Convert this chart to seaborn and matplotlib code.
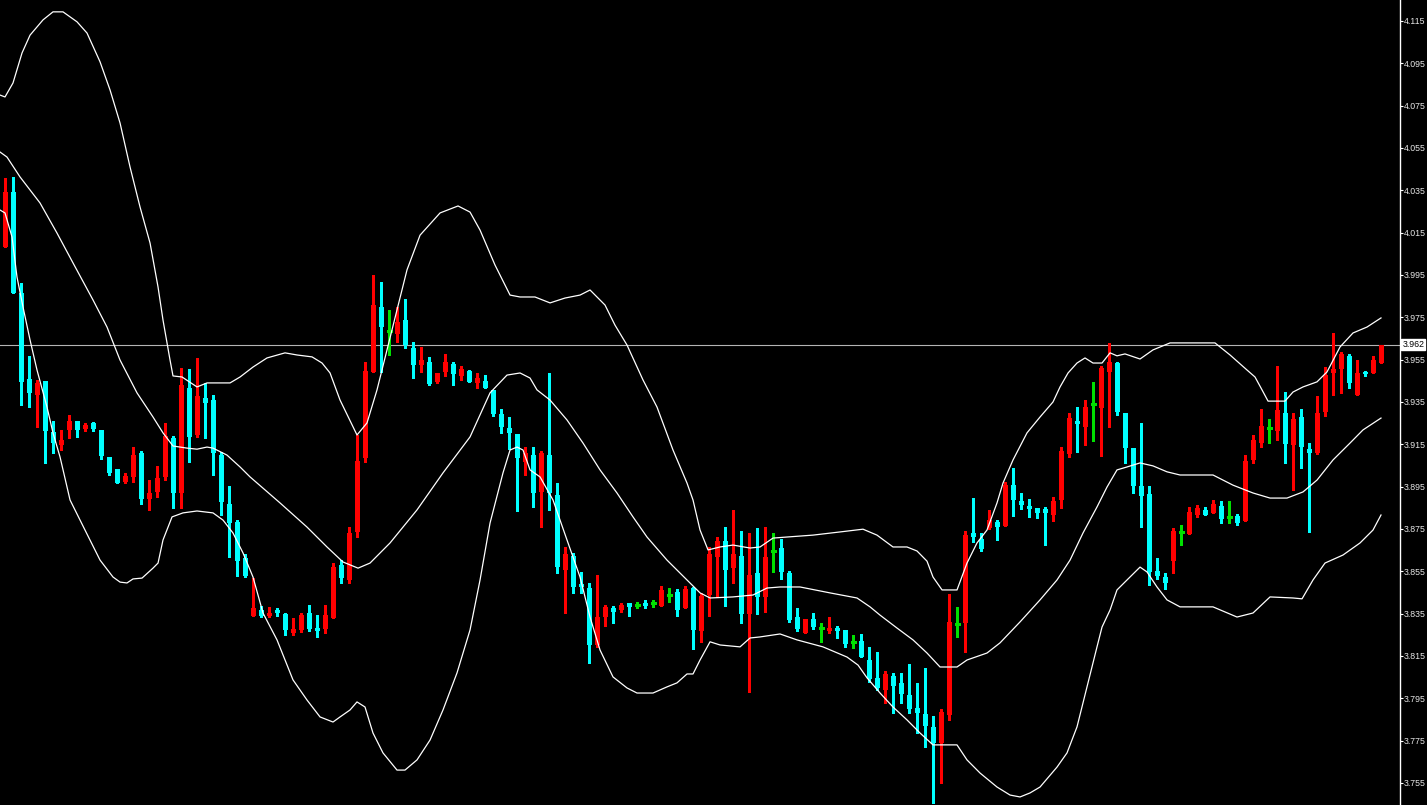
import matplotlib
matplotlib.use("Agg")
import matplotlib.pyplot as plt
import numpy as np
import pandas as pd
import seaborn as sns

# ---------------- candle data (one entry per bar) ----------------
opens = [
    4.0082, 4.0342, 3.9865, 3.9458, 3.9383, 3.9449, 3.9209, 3.9146, 3.9218, 3.9260,
    3.9222, 3.9251, 3.9218, 3.9090, 3.9033, 3.8972, 3.8996, 3.9109, 3.8891, 3.8925,
    3.8996, 3.9180, 3.8920, 3.9416, 3.9194, 3.9369, 3.9359, 3.9099, 3.8868, 3.8782,
    3.8613, 3.8339, 3.8367, 3.8339, 3.8367, 3.8348, 3.8259, 3.8273, 3.8353, 3.8282,
    3.8277, 3.8329, 3.8579, 3.8509, 3.8736, 3.9085, 3.9492, 3.9799, 3.9685, 3.9671,
    3.9737, 3.9605, 3.9524, 3.9539, 3.9445, 3.9492, 3.9529, 3.9473, 3.9496, 3.9440,
    3.9449, 3.9407, 3.9293, 3.9227, 3.9199, 3.9067, 3.9099, 3.8925, 3.9099, 3.8910,
    3.8556, 3.8623, 3.8490, 3.8471, 3.8202, 3.8334, 3.8377, 3.8367, 3.8401, 3.8391,
    3.8401, 3.8401, 3.8387, 3.8438, 3.8453, 3.8377, 3.8471, 3.8268, 3.8438, 3.8618,
    3.8693, 3.8565, 3.8623, 3.8348, 3.8542, 3.8429, 3.8646, 3.8660, 3.8542, 3.8334,
    3.8259, 3.8325, 3.8282, 3.8268, 3.8282, 3.8273, 3.8217, 3.8221, 3.8131, 3.8047,
    3.7989, 3.8056, 3.8023, 3.7966, 3.7904, 3.7876, 3.7814, 3.7739, 3.7871, 3.8301,
    3.8306, 3.8731, 3.8703, 3.8754, 3.8782, 3.8764, 3.8957, 3.8882, 3.8859, 3.8849,
    3.8844, 3.8816, 3.8887, 3.9104, 3.9260, 3.9232, 3.9340, 3.9321, 3.9492, 3.9534,
    3.9298, 3.9132, 3.8953, 3.8915, 3.8551, 3.8523, 3.8598, 3.8736, 3.8726, 3.8816,
    3.8840, 3.8826, 3.8859, 3.8807, 3.8811, 3.8787, 3.9076, 3.9156, 3.9227, 3.9213,
    3.9298, 3.9146, 3.9279, 3.9127, 3.9109, 3.9303, 3.9487, 3.9505, 3.9568, 3.9383,
    3.9492, 3.9487, 3.9534,
]
highs = [
    4.0408, 4.0413, 3.9912, 3.9568, 3.9454, 3.9449, 3.9260, 3.9218, 3.9288, 3.9260,
    3.9251, 3.9256, 3.9218, 3.9090, 3.9033, 3.9015, 3.9137, 3.9118, 3.8981, 3.9048,
    3.9251, 3.9190, 3.9510, 3.9505, 3.9558, 3.9440, 3.9383, 3.9114, 3.8953, 3.8792,
    3.8632, 3.8518, 3.8387, 3.8382, 3.8377, 3.8353, 3.8329, 3.8353, 3.8391, 3.8343,
    3.8391, 3.8589, 3.8603, 3.8759, 3.9194, 3.9539, 3.9950, 3.9917, 3.9785, 3.9799,
    3.9836, 3.9634, 3.9610, 3.9563, 3.9487, 3.9577, 3.9539, 3.9520, 3.9501, 3.9487,
    3.9477, 3.9407, 3.9316, 3.9279, 3.9199, 3.9137, 3.9137, 3.9118, 3.9487, 3.8967,
    3.8665, 3.8637, 3.8547, 3.8495, 3.8532, 3.8391, 3.8387, 3.8401, 3.8401, 3.8405,
    3.8415, 3.8415, 3.8481, 3.8471, 3.8467, 3.8481, 3.8476, 3.8448, 3.8665, 3.8712,
    3.8759, 3.8840, 3.8740, 3.8731, 3.8754, 3.8759, 3.8731, 3.8703, 3.8551, 3.8377,
    3.8325, 3.8353, 3.8306, 3.8334, 3.8292, 3.8273, 3.8249, 3.8254, 3.8193, 3.8169,
    3.8079, 3.8070, 3.8070, 3.8112, 3.8023, 3.8094, 3.7867, 3.7900, 3.8443, 3.8382,
    3.8740, 3.8896, 3.8731, 3.8840, 3.8792, 3.8972, 3.9038, 3.8920, 3.8891, 3.8849,
    3.8854, 3.8901, 3.9137, 3.9298, 3.9326, 3.9359, 3.9445, 3.9520, 3.9629, 3.9539,
    3.9298, 3.9132, 3.9251, 3.8953, 3.8613, 3.8542, 3.8754, 3.8768, 3.8854, 3.8863,
    3.8854, 3.8887, 3.8882, 3.8882, 3.8821, 3.9099, 3.9194, 3.9316, 3.9269, 3.9520,
    3.9398, 3.9298, 3.9316, 3.9156, 3.9378, 3.9515, 3.9676, 3.9586, 3.9577, 3.9548,
    3.9496, 3.9568, 3.9619,
]
lows = [
    4.0082, 3.9865, 3.9335, 3.9326, 3.9232, 3.9062, 3.9109, 3.9123, 3.9180, 3.9185,
    3.9213, 3.9213, 3.9080, 3.9005, 3.8967, 3.8967, 3.8972, 3.8868, 3.8840, 3.8901,
    3.8981, 3.8849, 3.8849, 3.9067, 3.9185, 3.9180, 3.9005, 3.8816, 3.8618, 3.8528,
    3.8523, 3.8339, 3.8334, 3.8334, 3.8339, 3.8249, 3.8249, 3.8264, 3.8268, 3.8240,
    3.8259, 3.8329, 3.8495, 3.8495, 3.8712, 3.9067, 3.9492, 3.9492, 3.9572, 3.9634,
    3.9605, 3.9463, 3.9492, 3.9430, 3.9440, 3.9473, 3.9430, 3.9454, 3.9445, 3.9416,
    3.9416, 3.9284, 3.9204, 3.9127, 3.8835, 3.9005, 3.8854, 3.8759, 3.8840, 3.8542,
    3.8353, 3.8448, 3.8448, 3.8117, 3.8193, 3.8292, 3.8306, 3.8358, 3.8339, 3.8377,
    3.8377, 3.8382, 3.8387, 3.8405, 3.8339, 3.8377, 3.8183, 3.8217, 3.8339, 3.8429,
    3.8387, 3.8495, 3.8306, 3.7980, 3.8348, 3.8358, 3.8547, 3.8514, 3.8311, 3.8268,
    3.8259, 3.8277, 3.8217, 3.8259, 3.8235, 3.8193, 3.8188, 3.8145, 3.8028, 3.7989,
    3.7928, 3.7881, 3.7928, 3.7881, 3.7786, 3.7720, 3.7456, 3.7550, 3.7848, 3.8240,
    3.8169, 3.8689, 3.8646, 3.8749, 3.8698, 3.8764, 3.8811, 3.8844, 3.8807, 3.8802,
    3.8674, 3.8787, 3.8849, 3.9090, 3.9114, 3.9146, 3.9165, 3.9095, 3.9232, 3.9288,
    3.9062, 3.8920, 3.8759, 3.8485, 3.8514, 3.8467, 3.8542, 3.8674, 3.8726, 3.8807,
    3.8816, 3.8826, 3.8778, 3.8778, 3.8768, 3.8787, 3.9062, 3.9137, 3.9156, 3.9170,
    3.9062, 3.8934, 3.9038, 3.8736, 3.9104, 3.9284, 3.9383, 3.9393, 3.9416, 3.9383,
    3.9473, 3.9487, 3.9534,
]
closes = [
    4.0342, 3.9865, 3.9445, 3.9393, 3.9440, 3.9213, 3.9156, 3.9170, 3.9260, 3.9218,
    3.9241, 3.9222, 3.9095, 3.9015, 3.8967, 3.9001, 3.9099, 3.8891, 3.8920, 3.8991,
    3.9190, 3.8920, 3.9430, 3.9185, 3.9379, 3.9345, 3.9109, 3.8878, 3.8778, 3.8598,
    3.8528, 3.8377, 3.8339, 3.8353, 3.8353, 3.8273, 3.8277, 3.8343, 3.8277, 3.8268,
    3.8343, 3.8570, 3.8518, 3.8731, 3.9071, 3.9496, 3.9808, 3.9704, 3.9685, 3.9728,
    3.9619, 3.9524, 3.9548, 3.9435, 3.9487, 3.9539, 3.9482, 3.9505, 3.9445, 3.9463,
    3.9416, 3.9293, 3.9232, 3.9204, 3.9085, 3.9109, 3.8920, 3.9109, 3.8920, 3.8570,
    3.8632, 3.8476, 3.8476, 3.8202, 3.8334, 3.8382, 3.8358, 3.8391, 3.8382, 3.8391,
    3.8387, 3.8401, 3.8462, 3.8438, 3.8367, 3.8467, 3.8273, 3.8434, 3.8632, 3.8693,
    3.8556, 3.8632, 3.8348, 3.8532, 3.8429, 3.8618, 3.8646, 3.8547, 3.8320, 3.8277,
    3.8325, 3.8287, 3.8282, 3.8282, 3.8268, 3.8207, 3.8217, 3.8145, 3.8042, 3.7999,
    3.8065, 3.8009, 3.7970, 3.7900, 3.7881, 3.7819, 3.7739, 3.7886, 3.8311, 3.8301,
    3.8721, 3.8712, 3.8655, 3.8792, 3.8759, 3.8957, 3.8887, 3.8863, 3.8844, 3.8826,
    3.8826, 3.8882, 3.9118, 3.9274, 3.9246, 3.9326, 3.9340, 3.9510, 3.9539, 3.9303,
    3.9132, 3.8953, 3.8906, 3.8547, 3.8528, 3.8495, 3.8740, 3.8736, 3.8830, 3.8849,
    3.8816, 3.8868, 3.8797, 3.8807, 3.8778, 3.9071, 3.9170, 3.9237, 3.9227, 3.9312,
    3.9151, 3.9269, 3.9137, 3.9109, 3.9298, 3.9477, 3.9505, 3.9577, 3.9440, 3.9487,
    3.9482, 3.9548, 3.9619,
]

# ---------------- Bollinger band vertices (bar index, price) ----------------
upper_x = [-0.63, 0, 1, 2.13, 3.13, 4.75, 6, 7.25, 9, 10.25, 11.88, 13.13, 14.38, 15.63, 16.88,
           18.13, 19.13, 19.75, 20.63, 21, 22.13, 24, 25.25, 28.13, 29.38, 31, 32.75, 35, 36.5,
           38.38, 39.63, 40.63, 41.88, 44, 45.25, 46.5, 47.75, 49, 50.25, 51.88, 54.38, 56.63,
           58.13, 59.38, 61.25, 63.13, 64.38, 66.25, 68.13, 70, 71.88, 73.13, 75, 76.25, 77.75,
           79.75, 81.5, 83.5, 85.25, 86, 86.88, 87.88, 89.38, 91, 93.13, 94.38, 96, 97.75, 101,
           104.38, 107.25, 109, 111, 112.75, 114, 115.25, 116, 117.13, 119, 120.25, 121.5, 122.75,
           124, 124.75, 126, 127.75, 129.38, 131, 131.88, 132.88, 134, 135, 136, 137.13, 138.13,
           139, 140, 141.88, 143.5, 145.63, 151.25, 153.13, 155.25, 156.25, 157.13, 157.88, 160,
           161, 162.25, 164, 165.25, 166.88, 168.5, 170.25, 172]
upper_v = [4.0800, 4.0791, 4.0857, 4.0999, 4.1083, 4.1155, 4.1193, 4.1193, 4.1146, 4.1093,
           4.0957, 4.0824, 4.0668, 4.0460, 4.0271, 4.0101, 3.9893, 3.9737, 3.9548, 3.9473,
           3.9468, 3.9421, 3.9440, 3.9440, 3.9468, 3.9515, 3.9558, 3.9582, 3.9572, 3.9563,
           3.9534, 3.9487, 3.9359, 3.9194, 3.9251, 3.9407, 3.9596, 3.9785, 3.9974, 4.0138,
           4.0243, 4.0276, 4.0247, 4.0162, 3.9997, 3.9855, 3.9846, 3.9846, 3.9818, 3.9841,
           3.9855, 3.9879, 3.9808, 3.9713, 3.9619, 3.9454, 3.9326, 3.9123, 3.8967, 3.8887,
           3.8745, 3.8651, 3.8665, 3.8674, 3.8660, 3.8665, 3.8707, 3.8712, 3.8721, 3.8736,
           3.8749, 3.8721, 3.8665, 3.8665, 3.8646, 3.8598, 3.8523, 3.8462, 3.8462, 3.8589,
           3.8684, 3.8745, 3.8873, 3.8967, 3.9076, 3.9204, 3.9279, 3.9350, 3.9421, 3.9487,
           3.9534, 3.9558, 3.9534, 3.9534, 3.9582, 3.9568, 3.9577, 3.9553, 3.9596, 3.9629,
           3.9629, 3.9572, 3.9501, 3.9468, 3.9407, 3.9354, 3.9354, 3.9397, 3.9421, 3.9445,
           3.9492, 3.9610, 3.9676, 3.9704, 3.9747]

middle_x = [-0.63, 0.25, 1.88, 4.38, 6.5, 8.5, 11, 12.75, 14.38, 16.5, 18.5, 19.75, 21, 22.75,
            24, 25.25, 26, 27.75, 29.38, 30.63, 34.38, 37.75, 40.25, 42.25, 44.13, 45.63, 48.13,
            51.5, 54.75, 58.13, 60.63, 62.75, 64.38, 65.63, 66.5, 68.13, 70.25, 72.25, 74.38,
            76.5, 78.5, 80.25, 82.75, 85.25, 86.88, 88.13, 91, 93.5, 95.25, 96.88, 99.38, 103.13,
            106.5, 108.13, 109.38, 111.5, 113.5, 115.25, 116.88, 119, 120.25, 122.75, 124.38,
            126.88, 129.38, 131.5, 133.13, 134.75, 136.5, 137.75, 139, 140.25, 141.88, 143.5,
            145.25, 146.88, 151, 153.5, 156, 158.13, 160.25, 162.25, 164, 166, 168.13, 169.75, 172]
middle_v = [4.0531, 4.0507, 4.0413, 4.0290, 4.0148, 4.0007, 3.9832, 3.9704, 3.9548, 3.9393,
            3.9279, 3.9204, 3.9142, 3.9132, 3.9127, 3.9137, 3.9132, 3.9099, 3.9043, 3.8996,
            3.8873, 3.8759, 3.8665, 3.8594, 3.8565, 3.8589, 3.8684, 3.8840, 3.9015, 3.9185,
            3.9393, 3.9477, 3.9487, 3.9463, 3.9407, 3.9359, 3.9265, 3.9156, 3.9029, 3.8920,
            3.8807, 3.8712, 3.8603, 3.8509, 3.8448, 3.8424, 3.8429, 3.8438, 3.8471, 3.8476,
            3.8476, 3.8448, 3.8424, 3.8382, 3.8343, 3.8282, 3.8226, 3.8164, 3.8098, 3.8098,
            3.8131, 3.8164, 3.8212, 3.8311, 3.8415, 3.8509, 3.8603, 3.8731, 3.8854, 3.8948,
            3.9029, 3.9043, 3.9062, 3.9048, 3.9020, 3.9005, 3.9005, 3.8957, 3.8920, 3.8896,
            3.8896, 3.8925, 3.8981, 3.9076, 3.9156, 3.9218, 3.9274]

lower_x = [-0.63, 0, 0.88, 1.5, 2.25, 3.13, 4, 5.25, 6, 6.88, 8.13, 10, 11.88, 13.5, 14.38,
           15.25, 16, 17.13, 18.5, 19.13, 19.75, 20.88, 22.25, 24, 26, 27.25, 28.5, 29.75, 31,
           32.25, 34, 36, 37.75, 39.38, 41, 41.88, 43.13, 44, 45, 46, 47.25, 49, 50, 51.5, 53.13,
           54.75, 56.5, 58.13, 59.38, 60.63, 62.25, 63.13, 64, 64.75, 65.63, 66.88, 68.5, 70.25,
           71.88, 73.13, 74.38, 76, 77.75, 79, 81, 82.75, 84, 85.25, 86, 86.88, 88.13, 89.38,
           91.88, 93.13, 94.38, 96.88, 99, 102.25, 105.25, 106.63, 107.75, 109.38, 111, 112.75,
           114.38, 116, 119, 120.25, 121.88, 124, 125.63, 126.88, 128.13, 129.38, 131.5, 132.75,
           134, 135.25, 136.5, 137.13, 138.13, 139, 140.25, 141.88, 142.75, 144, 145.25, 146.88,
           151, 154, 156, 158.13, 161, 162.13, 163.5, 165, 167.25, 169.38, 171, 172]
lower_v = [4.0257, 4.0243, 4.0129, 3.9940, 3.9799, 3.9643, 3.9501, 3.9326, 3.9204, 3.9090,
           3.8887, 3.8745, 3.8603, 3.8523, 3.8499, 3.8495, 3.8514, 3.8518, 3.8565, 3.8589,
           3.8698, 3.8807, 3.8826, 3.8835, 3.8826, 3.8792, 3.8731, 3.8637, 3.8523, 3.8353,
           3.8226, 3.8037, 3.7942, 3.7862, 3.7838, 3.7862, 3.7895, 3.7933, 3.7909, 3.7786,
           3.7692, 3.7611, 3.7611, 3.7659, 3.7753, 3.7895, 3.8070, 3.8273, 3.8509, 3.8778,
           3.9015, 3.9123, 3.9137, 3.9123, 3.9029, 3.8996, 3.8887, 3.8698, 3.8523, 3.8334,
           3.8178, 3.8051, 3.7999, 3.7975, 3.7975, 3.8004, 3.8023, 3.8065, 3.8065, 3.8131,
           3.8217, 3.8202, 3.8193, 3.8235, 3.8240, 3.8254, 3.8226, 3.8193, 3.8145, 3.8107,
           3.8047, 3.7975, 3.7909, 3.7848, 3.7786, 3.7730, 3.7730, 3.7659, 3.7597, 3.7531,
           3.7493, 3.7484, 3.7503, 3.7531, 3.7625, 3.7692, 3.7815, 3.8004, 3.8193, 3.8287,
           3.8367, 3.8462, 3.8509, 3.8570, 3.8547, 3.8476, 3.8415, 3.8382, 3.8382, 3.8334,
           3.8353, 3.8429, 3.8424, 3.8420, 3.8509, 3.8589, 3.8627, 3.8684, 3.8745, 3.8816]

price_labels = ["4.115", "4.095", "4.075", "4.055", "4.035", "4.015", "3.995", "3.975",
                "3.955", "3.935", "3.915", "3.895", "3.875", "3.855", "3.835", "3.815",
                "3.795", "3.775", "3.755"]
current_price = 3.962
current_label = "3.962"

# ---------------- figure ----------------
plt.rcParams["font.family"] = ["Liberation Sans", "DejaVu Sans"]

W, H = 1427, 805
fig = plt.figure(figsize=(W / 100, H / 100), dpi=100, facecolor="black")
ax = fig.add_axes([0, 0, 1400 / W, 1])
ax.set_facecolor("black")

o = np.array(opens); h = np.array(highs); l = np.array(lows); c = np.array(closes)
idx = np.arange(len(o))
up = c > o
dn = c < o
dj = c == o

RED, CYAN, GREEN = "#ff0000", "#00ffff", "#00e000"
bw = 0.625

for mask, col in ((up, RED), (dn, CYAN), (dj, GREEN)):
    ax.vlines(idx[mask], l[mask], h[mask], color=col, lw=1.0, zorder=2, antialiaseds=False)

ax.bar(idx[up], c[up] - o[up], bottom=o[up], width=bw, color=RED, lw=0, zorder=2.5,
       antialiased=False)
ax.bar(idx[dn], o[dn] - c[dn], bottom=c[dn], width=bw, color=CYAN, lw=0, zorder=2.5,
       antialiased=False)
ax.hlines(c[dj], idx[dj] - bw / 2, idx[dj] + bw / 2, color=GREEN, lw=1.0, zorder=2.5,
          antialiaseds=False)

bands = pd.concat([
    pd.DataFrame({"idx": upper_x, "price": upper_v, "band": "upper"}),
    pd.DataFrame({"idx": middle_x, "price": middle_v, "band": "middle"}),
    pd.DataFrame({"idx": lower_x, "price": lower_v, "band": "lower"}),
], ignore_index=True)
sns.lineplot(data=bands, x="idx", y="price", hue="band",
             palette={"upper": "white", "middle": "white", "lower": "white"},
             estimator=None, sort=False, legend=False, lw=0.9, ax=ax, zorder=3)

ax.axhline(current_price, color="#b4b4b4", lw=0.8, zorder=1)

ax.set_xlim(-0.625, 174.375)
ax.set_ylim(3.7446, 4.1249)
ax.set_xlabel("")
ax.set_ylabel("")
ax.set_xticks([])
ax.grid(False)

ax.yaxis.tick_right()
ax.set_yticks([float(s) for s in price_labels])
ax.set_yticklabels(price_labels)
ax.tick_params(axis="y", colors="white", labelcolor="#e6e6e6", labelsize=6.3,
               length=2.2, width=0.8, pad=0.6, direction="out")
for side in ("left", "top", "bottom"):
    ax.spines[side].set_visible(False)
ax.spines["right"].set_color("white")
ax.spines["right"].set_linewidth(1.0)

ax.annotate(current_label, xy=(1, current_price), xycoords=("axes fraction", "data"),
            xytext=(1.6, 0), textcoords="offset points", va="center", ha="left",
            fontsize=6.3, color="black", annotation_clip=False, zorder=5,
            bbox=dict(boxstyle="square,pad=0.1", fc="white", ec="white"))

fig.savefig("out.png", dpi=100, facecolor="black")
